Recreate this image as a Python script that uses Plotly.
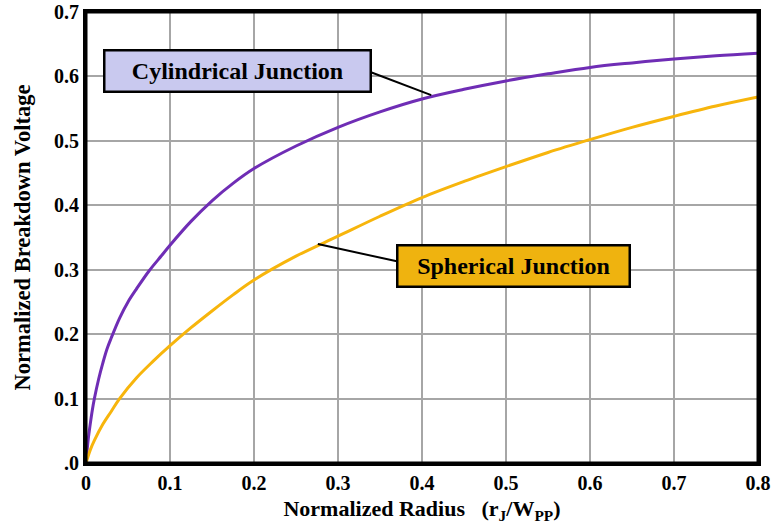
import plotly.graph_objects as go

# Normalized radius r_J / W_PP and normalized breakdown voltage
radius_cyl = [0.0, 0.0025, 0.005, 0.0075, 0.01, 0.015, 0.02, 0.025, 0.03, 0.04, 0.05, 0.06,
              0.075, 0.09, 0.1, 0.125, 0.15, 0.175, 0.2, 0.25, 0.3, 0.35, 0.4, 0.45, 0.5,
              0.55, 0.6, 0.65, 0.7, 0.75, 0.8]
bv_cyl = [0.0, 0.035, 0.06, 0.082, 0.10, 0.13, 0.155, 0.177, 0.194, 0.225, 0.25, 0.27,
          0.298, 0.322, 0.338, 0.375, 0.407, 0.434, 0.457, 0.492, 0.521, 0.545, 0.565, 0.580, 0.593,
          0.604, 0.614, 0.621, 0.627, 0.632, 0.636]

radius_sph = [0.0, 0.005, 0.01, 0.02, 0.03, 0.04, 0.06, 0.08, 0.1, 0.125, 0.15, 0.175, 0.2,
              0.25, 0.3, 0.35, 0.4, 0.45, 0.5, 0.55, 0.6, 0.65, 0.7, 0.75, 0.8]
bv_sph = [0.0, 0.02, 0.035, 0.06, 0.08, 0.10, 0.132, 0.158, 0.182, 0.21, 0.236, 0.261, 0.284,
          0.321, 0.352, 0.383, 0.412, 0.437, 0.46, 0.482, 0.502, 0.521, 0.538, 0.554, 0.568]

x_ticks = [0, 0.1, 0.2, 0.3, 0.4, 0.5, 0.6, 0.7, 0.8]
x_tick_text = ["0", "0.1", "0.2", "0.3", "0.4", "0.5", "0.6", "0.7", "0.8"]
y_ticks = [0, 0.1, 0.2, 0.3, 0.4, 0.5, 0.6, 0.7]
y_tick_text = [".0", "0.1", "0.2", "0.3", "0.4", "0.5", "0.6", "0.7"]

SERIF = "Liberation Serif, Times New Roman, serif"
PURPLE = "#6f2db5"
GOLD = "#f7b50c"

fig = go.Figure()
fig.add_trace(go.Scatter(x=radius_cyl, y=bv_cyl, mode="lines",
                         line=dict(color=PURPLE, width=3, shape="spline", smoothing=1.0),
                         name="Cylindrical Junction", showlegend=False))
fig.add_trace(go.Scatter(x=radius_sph, y=bv_sph, mode="lines",
                         line=dict(color=GOLD, width=3, shape="spline", smoothing=1.0),
                         name="Spherical Junction", showlegend=False))

# plot frame
fig.add_shape(type="rect", xref="paper", yref="paper", x0=0, y0=0, x1=1, y1=1,
              line=dict(color="black", width=3), layer="above")

# leader lines from the label boxes to the curves
fig.add_shape(type="line", x0=0.340, y0=0.606, x1=0.411, y1=0.571,
              line=dict(color="black", width=2))
fig.add_shape(type="line", x0=0.370, y0=0.313, x1=0.276, y1=0.340,
              line=dict(color="black", width=2))

fig.add_annotation(x=0.180, y=0.608, xref="x", yref="y", text="<b>Cylindrical Junction</b>",
                   showarrow=False, font=dict(family=SERIF, size=24, color="black"),
                   bgcolor="#c9c9ef", bordercolor="black", borderwidth=2.5,
                   width=262, height=37, borderpad=1)
fig.add_annotation(x=0.509, y=0.305, xref="x", yref="y", text="<b>Spherical Junction</b>",
                   showarrow=False, font=dict(family=SERIF, size=24, color="black"),
                   bgcolor="#efb30f", bordercolor="black", borderwidth=2.5,
                   width=228, height=37, borderpad=1)

axis_common = dict(showgrid=True, gridcolor="#a6a6a6", gridwidth=1.5,
                   showline=True, linecolor="black", linewidth=3, mirror=True,
                   zeroline=False, ticks="", automargin=False, ticklabeloverflow="allow",
                   tickfont=dict(family=SERIF, size=20, color="black"))

fig.update_xaxes(range=[0, 0.8], tickvals=x_ticks, ticktext=[f"<b>{t}</b>" for t in x_tick_text],
                 title=dict(text="<b>Normalized Radius   (r<sub>J</sub>/W<sub>PP</sub>)</b>",
                            font=dict(family=SERIF, size=22, color="black"), standoff=8),
                 **axis_common)
fig.update_yaxes(range=[0, 0.7], tickvals=y_ticks, ticktext=[f"<b>{t}</b>" for t in y_tick_text],
                 title=dict(text="<b>Normalized Breakdown Voltage</b>",
                            font=dict(family=SERIF, size=22.5, color="black"), standoff=18),
                 **axis_common)

fig.update_layout(width=773, height=530, margin=dict(l=86, r=15, t=12, b=67),
                  plot_bgcolor="white", paper_bgcolor="white")

fig.write_html("out.html")
